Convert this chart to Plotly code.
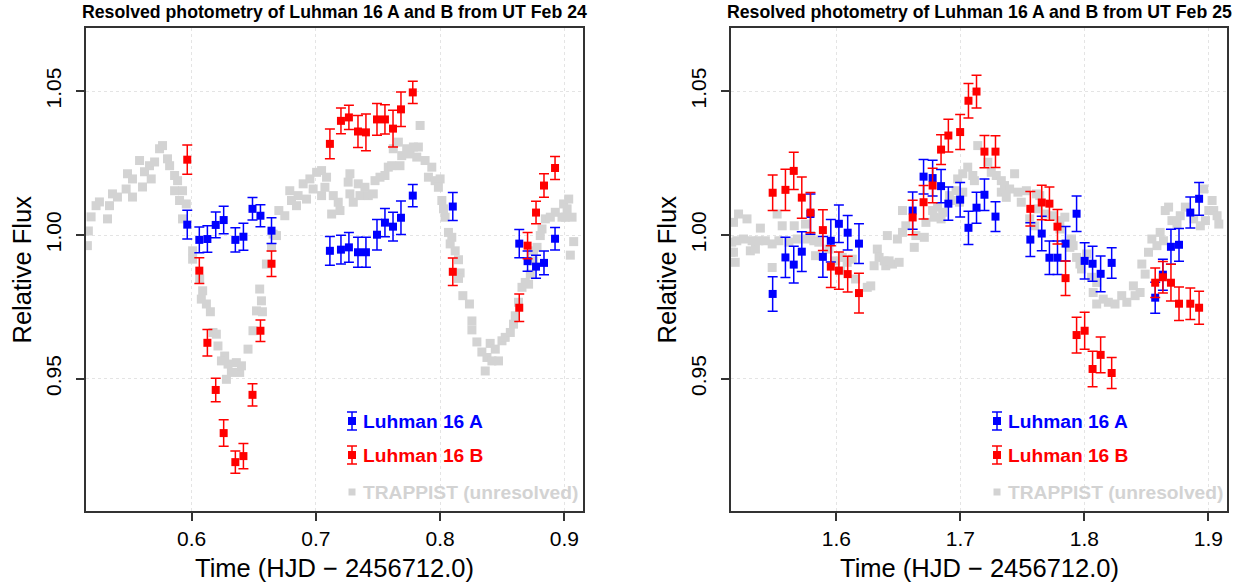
import plotly.graph_objects as go

# ---------------- data ----------------
# Feb 24 : resolved photometry (shared epochs for A and B)
t24 = [0.5965, 0.6062, 0.6127, 0.6194, 0.6258, 0.6352, 0.6417, 0.6490, 0.6554, 0.6643,
       0.7113, 0.7202, 0.7266, 0.7339, 0.7403, 0.7492, 0.7556, 0.7621, 0.7685, 0.7780,
       0.8102, 0.8637, 0.8704, 0.8772, 0.8836, 0.8925]
a24 = [1.0036, 0.9983, 0.9986, 1.0035, 1.0052, 0.9983, 0.9994, 1.0091, 1.0067, 1.0015,
       0.9945, 0.9949, 0.9957, 0.9940, 0.9940, 1.0001, 1.0043, 1.0029, 1.0060, 1.0137,
       1.0099, 0.9970, 0.9909, 0.9890, 0.9903, 0.9987]
a24_err = [0.0050, 0.0045, 0.0046, 0.0045, 0.0048, 0.0042, 0.0047, 0.0039, 0.0038, 0.0045,
           0.0050, 0.0050, 0.0052, 0.0052, 0.0052, 0.0053, 0.0049, 0.0050, 0.0058, 0.0039,
           0.0049, 0.0049, 0.0035, 0.0040, 0.0041, 0.0039]
b24 = [1.0262, 0.9876, 0.9625, 0.9461, 0.9311, 0.9210, 0.9231, 0.9444, 0.9667, 0.9900,
       1.0317, 1.0397, 1.0409, 1.0360, 1.0357, 1.0402, 1.0402, 1.0370, 1.0437, 1.0496,
       0.9872, 0.9747, 0.9963, 1.0078, 1.0172, 1.0233]
b24_err = [0.0051, 0.0045, 0.0046, 0.0041, 0.0046, 0.0039, 0.0044, 0.0039, 0.0037, 0.0044,
           0.0052, 0.0045, 0.0042, 0.0056, 0.0064, 0.0055, 0.0051, 0.0064, 0.0060, 0.0039,
           0.0048, 0.0048, 0.0046, 0.0039, 0.0041, 0.0040]

# Feb 24 : TRAPPIST unresolved
tr24_t = [0.5161, 0.5169, 0.5191, 0.5231, 0.5258, 0.5323, 0.5339, 0.5363, 0.5403, 0.5473,
          0.5484, 0.5524, 0.5524, 0.5581, 0.5605, 0.5621, 0.5661, 0.5675, 0.5702, 0.5742,
          0.5766, 0.5806, 0.5823, 0.5863, 0.5887, 0.5863, 0.5927, 0.5903, 0.5957, 0.5927,
          0.6008, 0.6008, 0.6065, 0.6089, 0.6078, 0.6119, 0.6151, 0.6172, 0.6199, 0.6212,
          0.6266, 0.6240, 0.6293, 0.6280, 0.6320, 0.6360, 0.6387, 0.6401, 0.6454, 0.6494,
          0.6522, 0.6548, 0.6562, 0.6570, 0.6602, 0.6643, 0.6656, 0.6683, 0.6702, 0.6750,
          0.6790, 0.6804, 0.6844, 0.6857, 0.6898, 0.6925, 0.6952, 0.6978, 0.7006, 0.7046,
          0.7046, 0.7073, 0.7086, 0.7127, 0.7140, 0.7180, 0.7194, 0.7260, 0.7274, 0.7274,
          0.7301, 0.7341, 0.7355, 0.7395, 0.7422, 0.7462, 0.7476, 0.7516, 0.7556, 0.7583,
          0.7610, 0.7623, 0.7664, 0.7677, 0.7691, 0.7731, 0.7758, 0.7785, 0.7812, 0.7825,
          0.7839, 0.7879, 0.7906, 0.7933, 0.7960, 0.8000, 0.7986, 0.8014, 0.8027, 0.8040,
          0.8067, 0.8094, 0.8081, 0.8121, 0.8148, 0.8161, 0.8148, 0.8183, 0.8236, 0.8256,
          0.8256, 0.8296, 0.8336, 0.8377, 0.8363, 0.8403, 0.8417, 0.8444, 0.8470, 0.8498,
          0.8524, 0.8565, 0.8591, 0.8605, 0.8631, 0.8659, 0.8685, 0.8712, 0.8726, 0.8752,
          0.8752, 0.8780, 0.8806, 0.8820, 0.8847, 0.8887, 0.8927, 0.8981, 0.8994, 0.9008,
          0.9022, 0.9035, 0.9062, 0.9075, 0.9048]
tr24_f = [0.9963, 1.0014, 1.0063, 1.0102, 1.0115, 1.0056, 1.0102, 1.0143, 1.0132, 1.0160,
          1.0213, 1.0195, 1.0132, 1.0259, 1.0167, 1.0220, 1.0241, 1.0195, 1.0254, 1.0300,
          1.0311, 1.0265, 1.0241, 1.0207, 1.0189, 1.0154, 1.0154, 1.0120, 1.0108, 1.0056,
          0.9945, 0.9916, 0.9847, 0.9806, 0.9777, 0.9760, 0.9733, 0.9661, 0.9655, 0.9614,
          0.9579, 0.9562, 0.9551, 0.9498, 0.9522, 0.9556, 0.9522, 0.9545, 0.9603, 0.9667,
          0.9736, 0.9812, 0.9771, 0.9733, 0.9899, 0.9957, 1.0003, 0.9998, 1.0085, 1.0067,
          1.0154, 1.0120, 1.0102, 1.0137, 1.0178, 1.0125, 1.0195, 1.0160, 1.0218, 1.0224,
          1.0137, 1.0166, 1.0201, 1.0073, 1.0137, 1.0114, 1.0085, 1.0184, 1.0213, 1.0143,
          1.0114, 1.0178, 1.0137, 1.0166, 1.0137, 1.0143, 1.0189, 1.0201, 1.0207, 1.0236,
          1.0241, 1.0300, 1.0323, 1.0241, 1.0276, 1.0300, 1.0282, 1.0306, 1.0271, 1.0306,
          1.0381, 1.0259, 1.0201, 1.0236, 1.0189, 1.0195, 1.0166, 1.0120, 1.0091, 1.0062,
          1.0009, 0.9992, 0.9969, 0.9945, 0.9914, 0.9868, 0.9849, 0.9789, 0.9760, 0.9701,
          0.9670, 0.9628, 0.9593, 0.9574, 0.9527, 0.9623, 0.9562, 0.9603, 0.9562, 0.9632,
          0.9644, 0.9661, 0.9690, 0.9719, 0.9766, 0.9818, 0.9835, 0.9829, 0.9864, 0.9910,
          0.9945, 0.9957, 0.9998, 1.0021, 1.0056, 1.0062, 1.0079, 1.0062, 1.0108, 1.0062,
          1.0091, 1.0125, 1.0062, 0.9977, 0.9930]

# Feb 25 : resolved photometry
t25 = [1.5486, 1.5589, 1.5656, 1.5721, 1.5791, 1.5891, 1.5955, 1.6020, 1.6091, 1.6182,
       1.6615, 1.6703, 1.6776, 1.6844, 1.6903, 1.6998, 1.7065, 1.7130, 1.7194, 1.7283,
       1.7564, 1.7656, 1.7718, 1.7783, 1.7848, 1.7937, 1.8002, 1.8066, 1.8131, 1.8220,
       1.8571, 1.8633, 1.8698, 1.8763, 1.8854, 1.8925]
a25 = [0.9795, 0.9922, 0.9897, 0.9942, 1.0073, 0.9924, 0.9980, 1.0039, 1.0008, 0.9970,
       1.0085, 1.0203, 1.0198, 1.0170, 1.0109, 1.0123, 1.0025, 1.0095, 1.0140, 1.0064,
       0.9984, 1.0005, 0.9921, 0.9921, 0.9970, 1.0074, 0.9910, 0.9900, 0.9865, 0.9903,
       0.9782, 0.9862, 0.9959, 0.9966, 1.0078, 1.0126]
a25_err = [0.0060, 0.0070, 0.0064, 0.0069, 0.0070, 0.0071, 0.0074, 0.0065, 0.0060, 0.0069,
           0.0065, 0.0060, 0.0062, 0.0058, 0.0058, 0.0060, 0.0058, 0.0054, 0.0055, 0.0052,
           0.0059, 0.0060, 0.0058, 0.0058, 0.0060, 0.0062, 0.0063, 0.0061, 0.0062, 0.0053,
           0.0054, 0.0054, 0.0061, 0.0057, 0.0054, 0.0057]
b25 = [1.0147, 1.0157, 1.0223, 1.0130, 1.0078, 1.0017, 0.9890, 0.9876, 0.9864, 0.9798,
       1.0061, 1.0114, 1.0172, 1.0297, 1.0346, 1.0358, 1.0467, 1.0499, 1.0290, 1.0290,
       1.0091, 1.0113, 1.0109, 1.0029, 0.9850, 0.9652, 0.9667, 0.9534, 0.9583, 0.9520,
       0.9834, 0.9853, 0.9834, 0.9761, 0.9761, 0.9747]
b25_err = [0.0062, 0.0072, 0.0065, 0.0072, 0.0070, 0.0071, 0.0073, 0.0065, 0.0062, 0.0069,
           0.0060, 0.0058, 0.0060, 0.0052, 0.0057, 0.0061, 0.0060, 0.0057, 0.0056, 0.0055,
           0.0060, 0.0060, 0.0058, 0.0060, 0.0060, 0.0062, 0.0064, 0.0062, 0.0062, 0.0054,
           0.0051, 0.0055, 0.0064, 0.0058, 0.0055, 0.0057]

# Feb 25 : TRAPPIST unresolved
tr25_t = [1.5150, 1.5156, 1.5170, 1.5170, 1.5184, 1.5197, 1.5211, 1.5251, 1.5279, 1.5306,
          1.5320, 1.5347, 1.5374, 1.5387, 1.5427, 1.5482, 1.5482, 1.5522, 1.5536, 1.5563,
          1.5617, 1.5660, 1.5684, 1.5751, 1.5764, 1.5791, 1.5818, 1.5832, 1.5858, 1.5939,
          1.5994, 1.6034, 1.6047, 1.6087, 1.6128, 1.6155, 1.6249, 1.6277, 1.6304, 1.6330,
          1.6344, 1.6385, 1.6398, 1.6411, 1.6425, 1.6452, 1.6492, 1.6506, 1.6533, 1.6533,
          1.6560, 1.6628, 1.6641, 1.6709, 1.6722, 1.6776, 1.6789, 1.6816, 1.6844, 1.6857,
          1.6911, 1.6938, 1.6965, 1.6978, 1.6992, 1.7019, 1.7019, 1.7059, 1.7100, 1.7113,
          1.7140, 1.7221, 1.7249, 1.7289, 1.7330, 1.7330, 1.7356, 1.7370, 1.7397, 1.7437,
          1.7464, 1.7491, 1.7532, 1.7559, 1.7599, 1.7613, 1.7626, 1.7640, 1.7680, 1.7747,
          1.7802, 1.7802, 1.7842, 1.7883, 1.7896, 1.7909, 1.7937, 1.7964, 1.7977, 1.8018,
          1.8058, 1.8071, 1.8099, 1.8099, 1.8152, 1.8193, 1.8247, 1.8301, 1.8342, 1.8395,
          1.8409, 1.8449, 1.8463, 1.8490, 1.8517, 1.8544, 1.8585, 1.8611, 1.8638, 1.8652,
          1.8679, 1.8706, 1.8747, 1.8773, 1.8814, 1.8881, 1.8935, 1.8962, 1.8976, 1.9003,
          1.9030, 1.9043, 1.9070, 1.9084]
tr25_f = [0.9940, 0.9975, 1.0044, 0.9940, 0.9905, 0.9980, 1.0073, 0.9986, 1.0056, 0.9945,
          0.9980, 0.9951, 0.9980, 1.0024, 0.9980, 0.9969, 0.9887, 1.0073, 0.9980, 1.0032,
          0.9975, 1.0032, 0.9986, 1.0038, 0.9986, 0.9998, 0.9980, 0.9928, 0.9975, 0.9951,
          0.9910, 0.9876, 0.9922, 0.9905, 0.9916, 0.9847, 0.9818, 0.9823, 0.9893, 0.9951,
          0.9922, 0.9910, 0.9893, 0.9998, 0.9910, 0.9899, 0.9986, 0.9905, 1.0085, 1.0009,
          1.0032, 0.9957, 0.9998, 0.9992, 1.0044, 1.0085, 1.0062, 1.0097, 1.0056, 1.0079,
          1.0137, 1.0120, 1.0154, 1.0195, 1.0114, 1.0213, 1.0149, 1.0236, 1.0207, 1.0189,
          1.0311, 1.0253, 1.0218, 1.0207, 1.0189, 1.0149, 1.0172, 1.0131, 1.0160, 1.0213,
          1.0149, 1.0114, 1.0154, 1.0056, 1.0032, 1.0143, 1.0091, 1.0137, 1.0073, 1.0067,
          1.0050, 1.0021, 1.0062, 0.9957, 0.9986, 0.9963, 0.9922, 0.9899, 0.9882, 0.9934,
          0.9853, 0.9800, 0.9835, 0.9760, 0.9777, 0.9766, 0.9760, 0.9789, 0.9766, 0.9823,
          0.9789, 0.9800, 0.9899, 0.9864, 0.9940, 0.9986, 0.9963, 1.0009, 0.9980, 1.0085,
          1.0097, 1.0050, 1.0038, 1.0067, 1.0097, 1.0056, 1.0032, 1.0160, 1.0050, 1.0085,
          1.0120, 1.0085, 1.0067, 1.0038]

titles = ["Resolved photometry of Luhman 16 A and B from UT Feb 24",
          "Resolved photometry of Luhman 16 A and B from UT Feb 25"]
x_title = "Time (HJD \u2212 2456712.0)"
y_title = "Relative Flux"
legend_names = ["Luhman 16 A", "Luhman 16 B", "TRAPPIST (unresolved)"]
x_ticks_1 = [0.6, 0.7, 0.8, 0.9]
x_ticks_2 = [1.6, 1.7, 1.8, 1.9]
y_ticks = [0.95, 1.00, 1.05]

# ---------------- styling ----------------
W, H = 1245, 588
BLUE, RED, GREY = "#0000ff", "#ff0000", "#d3d3d3"
FONT = "Liberation Sans, Arial, Helvetica, sans-serif"

# plot boxes in pixels (left, right, top, bottom)
boxes = [(86, 583, 28, 511), (731, 1227, 28, 511)]


def px(x):
    return x / W


def py(y):
    return 1 - y / H


fig = go.Figure()

panels = [
    ("x", "y", t24, a24, a24_err, b24, b24_err, tr24_t, tr24_f),
    ("x2", "y2", t25, a25, a25_err, b25, b25_err, tr25_t, tr25_f),
]
for xa, ya, t, a, ae, b, be, tt, tf in panels:
    fig.add_trace(go.Scatter(x=tt, y=tf, mode="markers", xaxis=xa, yaxis=ya,
                             marker=dict(symbol="square", size=9, color=GREY),
                             showlegend=False, hoverinfo="skip"))
    fig.add_trace(go.Scatter(x=t, y=a, mode="markers", xaxis=xa, yaxis=ya,
                             marker=dict(symbol="square", size=8, color=BLUE),
                             error_y=dict(type="data", array=ae, color=BLUE,
                                          thickness=1.5, width=5),
                             showlegend=False))
    fig.add_trace(go.Scatter(x=t, y=b, mode="markers", xaxis=xa, yaxis=ya,
                             marker=dict(symbol="square", size=8, color=RED),
                             error_y=dict(type="data", array=be, color=RED,
                                          thickness=1.5, width=5),
                             showlegend=False))

axis_common = dict(showline=True, mirror=True, linecolor="#333333", linewidth=1.5,
                   ticks="outside", ticklen=8, tickwidth=1.5, tickcolor="#333333",
                   showgrid=True, gridcolor="#e4e4e4", griddash="dot", gridwidth=1,
                   zeroline=False,
                   tickfont=dict(family=FONT, size=21, color="#000000"))

(l1, r1, t1, b1), (l2, r2, t2, b2) = boxes
fig.update_layout(
    width=W, height=H,
    margin=dict(l=0, r=0, t=0, b=0),
    paper_bgcolor="white", plot_bgcolor="white",
    xaxis=dict(domain=[px(l1), px(r1)], range=[0.515, 0.915], anchor="y",
               tickvals=x_ticks_1, ticktext=[f"{v:.1f}" for v in x_ticks_1], **axis_common),
    yaxis=dict(domain=[py(b1), py(t1)], range=[0.904, 1.072], anchor="x",
               tickvals=y_ticks, ticktext=[f"{v:.2f}" for v in y_ticks], tickangle=-90,
               ticklabelstandoff=7, **axis_common),
    xaxis2=dict(domain=[px(l2), px(r2)], range=[1.515, 1.915], anchor="y2",
                tickvals=x_ticks_2, ticktext=[f"{v:.1f}" for v in x_ticks_2], **axis_common),
    yaxis2=dict(domain=[py(b2), py(t2)], range=[0.904, 1.072], anchor="x2",
                tickvals=y_ticks, ticktext=[f"{v:.2f}" for v in y_ticks], tickangle=-90,
                ticklabelstandoff=7, **axis_common),
)

annotations = []
shapes = []
for i, (l, r, t, b) in enumerate(boxes):
    cx = (l + r) / 2
    annotations.append(dict(x=px(cx), y=py(12), xref="paper", yref="paper",
                            text=f"<b>{titles[i]}</b>", showarrow=False,
                            xanchor="center", yanchor="middle",
                            font=dict(family=FONT, size=17.7, color="#000000")))
    annotations.append(dict(x=px(cx), y=py(568), xref="paper", yref="paper",
                            text=x_title, showarrow=False, xanchor="center", yanchor="middle",
                            font=dict(family=FONT, size=25.5, color="#000000")))
    annotations.append(dict(x=px(l - 64), y=py((t + b) / 2), xref="paper", yref="paper",
                            text=y_title, showarrow=False, textangle=-90,
                            xanchor="center", yanchor="middle",
                            font=dict(family=FONT, size=25.5, color="#000000")))
    # legend
    mx = l + 266
    rows = [(421, BLUE, True), (455, RED, True), (492, GREY, False)]
    for (yy, col, eb), name in zip(rows, legend_names):
        annotations.append(dict(x=px(mx + 9), y=py(yy), xref="paper", yref="paper",
                                text=f"<b>{name}</b>", showarrow=False,
                                xanchor="left", yanchor="middle",
                                font=dict(family=FONT, size=19.2, color=col)))
        half = 4 if eb else 3.5
        shapes.append(dict(type="rect", xref="paper", yref="paper",
                           x0=px(mx - half), x1=px(mx + half), y0=py(yy - half), y1=py(yy + half),
                           fillcolor=col, line=dict(width=0)))
        if eb:
            shapes.append(dict(type="line", xref="paper", yref="paper",
                               x0=px(mx), x1=px(mx), y0=py(yy - 9), y1=py(yy + 9),
                               line=dict(color=col, width=1.5)))
            for cy in (yy - 9, yy + 9):
                shapes.append(dict(type="line", xref="paper", yref="paper",
                                   x0=px(mx - 5), x1=px(mx + 5), y0=py(cy), y1=py(cy),
                                   line=dict(color=col, width=1.5)))

fig.update_layout(annotations=annotations, shapes=shapes)
fig.write_html("out.html")
